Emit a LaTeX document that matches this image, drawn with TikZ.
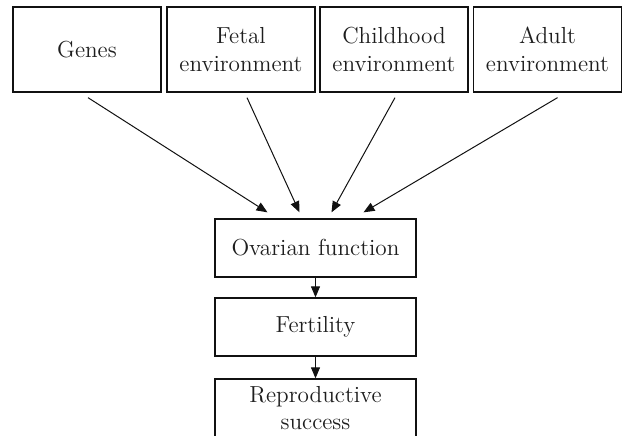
\documentclass[tikz,border=0pt]{standalone}
\usepackage{xcolor}
\usepackage{tikz}
\usetikzlibrary{arrows.meta}
\definecolor{inkK}{HTML}{1E1E1E}
\definecolor{lineK}{HTML}{111111}

\begin{document}
\begin{tikzpicture}[x=0.5pt,y=-0.5pt,
    factor/.style={draw=lineK, line width=0.65pt, minimum width=74pt,
      minimum height=42.5pt, inner sep=1pt, align=center, text=inkK,
      font=\fontsize{11.6}{13.8}\selectfont},
    stage/.style={factor, minimum width=100.5pt, minimum height=29pt},
    arr/.style={draw=lineK, line width=0.5pt, -{Triangle[length=5.5pt,width=4.5pt]}}]
  \useasboundingbox (0,0) rectangle (622,435);
  % inputs
  \node[factor] (genes)  at (87,49.5)  {Genes};
  \node[factor] (fetal)  at (241,49.5) {Fetal\\environment};
  \node[factor] (child)  at (394,49.5) {Childhood\\environment};
  \node[factor] (adult)  at (547.5,49.5) {Adult\\environment};
  % chain
  \node[stage] (ovary)  at (315.5,248) {Ovarian function};
  \node[stage] (fert)   at (315.5,327) {Fertility};
  \node[stage] (repro)  at (315.5,408) {Reproductive\\success};

  \draw[arr] ([xshift=0.5pt,yshift=-2.5pt]genes.south) -- ([xshift=-24pt,yshift=3pt]ovary.north);
  \draw[arr] ([xshift=3pt,yshift=-2.5pt]fetal.south)   -- ([xshift=-8pt,yshift=3pt]ovary.north);
  \draw[arr] ([xshift=0.5pt,yshift=-2.5pt]child.south) -- ([xshift=8pt,yshift=3pt]ovary.north);
  \draw[arr] ([xshift=5pt,yshift=-2.5pt]adult.south)   -- ([xshift=24pt,yshift=3pt]ovary.north);
  \draw[arr] (ovary) -- (fert);
  \draw[arr] (fert) -- (repro);
\end{tikzpicture}
\end{document}
